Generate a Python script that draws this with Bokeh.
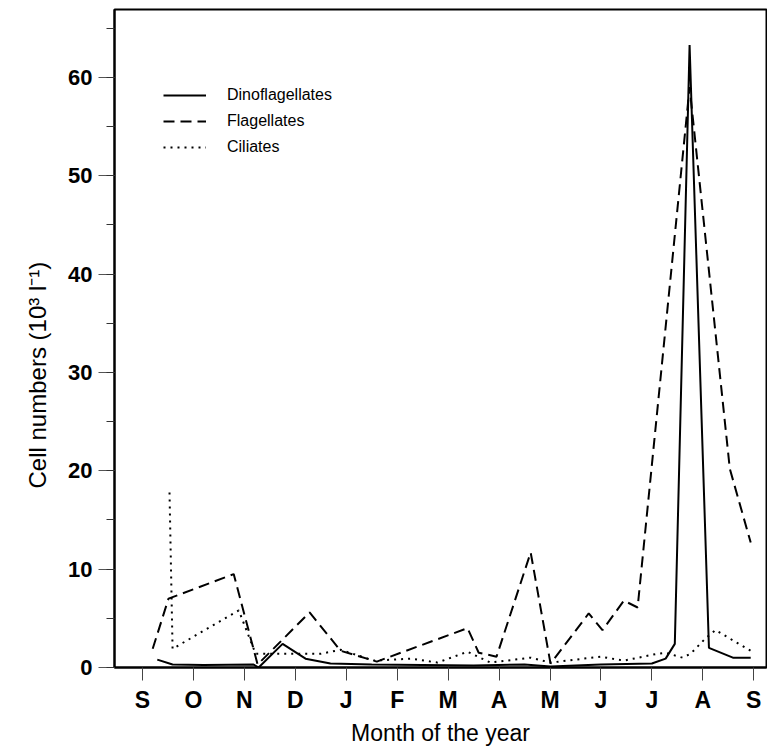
from bokeh.plotting import figure
from bokeh.models import (Legend, LegendItem, Title, Range1d,
                          SingleIntervalTicker, FixedTicker)
from bokeh.embed import file_html
from bokeh.resources import INLINE

# x = months since the start of September
month_ticks = [0, 1, 2, 3, 4, 5, 6, 7, 8, 9, 10, 11, 12]
month_labels = ["S", "O", "N", "D", "J", "F", "M", "A", "M", "J", "J", "A", "S"]

dino_x = [0.29, 0.59, 1.20, 2.18, 2.28, 2.75, 3.20, 3.69, 4.50, 5.50, 6.50,
          7.50, 8.01, 9.00, 10.00, 10.27, 10.45, 10.74, 11.12, 11.59, 11.94]
dino_y = [0.8, 0.3, 0.25, 0.3, 0.0, 2.4, 0.9, 0.4, 0.3, 0.25, 0.2,
          0.3, 0.1, 0.3, 0.4, 0.9, 2.4, 63.3, 2.0, 1.0, 1.0]

flag_x = [0.20, 0.51, 1.79, 2.26, 3.28, 3.89, 4.60, 6.38, 6.60, 6.95, 7.62,
          8.01, 8.76, 9.03, 9.45, 9.72, 10.74, 11.53, 11.94]
flag_y = [1.9, 7.0, 9.5, 0.3, 5.6, 1.7, 0.6, 4.0, 1.5, 1.1, 11.7,
          0.4, 5.5, 3.8, 6.8, 6.1, 59.0, 20.2, 12.7]

cil_x = [0.53, 0.59, 1.89, 2.22, 2.91, 3.50, 3.89, 4.54, 5.26, 5.79, 6.38,
         6.83, 7.62, 8.01, 8.99, 9.45, 10.11, 10.27, 10.60, 10.76, 11.06,
         11.25, 11.94]
cil_y = [17.8, 1.9, 5.8, 1.4, 1.4, 1.4, 1.8, 0.7, 0.9, 0.5, 1.6,
         0.5, 1.0, 0.5, 1.1, 0.7, 1.4, 1.5, 1.0, 1.4, 3.0,
         3.8, 1.7]

p = figure(frame_width=652, frame_height=658, output_backend="svg",
           toolbar_location=None,
           x_range=Range1d(-0.55, 12.25), y_range=Range1d(0, 66.9),
           min_border_left=114, min_border_right=1, min_border_top=9,
           min_border_bottom=80)

p.background_fill_color = "white"
p.border_fill_color = "white"
p.outline_line_color = "black"
p.outline_line_width = 2
p.grid.visible = False

FONT = "Liberation Sans"

# x axis
p.xaxis.ticker = FixedTicker(ticks=month_ticks)
p.xaxis.major_label_overrides = {t: l for t, l in zip(month_ticks, month_labels)}
p.xaxis.major_tick_out = 13
p.xaxis.major_tick_in = 0
p.xaxis.minor_tick_out = 0
p.xaxis.minor_tick_in = 0
p.xaxis.major_tick_line_color = "#444444"
p.xaxis.axis_line_color = "black"
p.xaxis.axis_line_width = 2
p.xaxis.major_label_text_font = FONT
p.xaxis.major_label_text_font_size = "23px"
p.xaxis.major_label_text_font_style = "bold"
p.xaxis.major_label_text_color = "black"
p.xaxis.major_label_standoff = 6
p.xaxis.axis_label = "Month of the year"
p.xaxis.axis_label_text_font = FONT
p.xaxis.axis_label_text_font_size = "23px"
p.xaxis.axis_label_text_font_style = "normal"
p.xaxis.axis_label_text_color = "black"
p.xaxis.axis_label_standoff = 4

# y axis
p.yaxis.ticker = SingleIntervalTicker(interval=10, num_minor_ticks=2)
p.yaxis.major_tick_out = 16
p.yaxis.major_tick_in = 0
p.yaxis.minor_tick_out = 8
p.yaxis.minor_tick_in = 0
p.yaxis.major_tick_line_color = "#555555"
p.yaxis.minor_tick_line_color = "#333333"
p.yaxis.axis_line_color = "black"
p.yaxis.axis_line_width = 2
p.yaxis.major_label_text_font = FONT
p.yaxis.major_label_text_font_size = "22px"
p.yaxis.major_label_text_font_style = "bold"
p.yaxis.major_label_text_color = "black"
p.yaxis.major_label_standoff = 6

r_dino = p.line(dino_x, dino_y, line_color="black", line_width=2)
r_flag = p.line(flag_x, flag_y, line_color="black", line_width=2,
                line_dash="11 6")
r_cil = p.line(cil_x, cil_y, line_color="black", line_width=2,
               line_dash="2 5")

legend = Legend(items=[LegendItem(label="Dinoflagellates", renderers=[r_dino]),
                       LegendItem(label="Flagellates", renderers=[r_flag]),
                       LegendItem(label="Ciliates", renderers=[r_cil])],
                location=(49, 510), border_line_color=None,
                background_fill_alpha=0, padding=0, margin=0,
                glyph_width=43, glyph_height=20, label_height=20,
                label_standoff=21, spacing=6,
                label_text_font=FONT, label_text_font_size="16px",
                label_text_color="black")
p.add_layout(legend, "center")

ytitle = Title(text="Cell numbers (10\u00b3 l\u207b\u00b9)", align="left",
               offset=179, standoff=30, text_font=FONT,
               text_font_size="24px", text_font_style="normal",
               text_color="black")
p.add_layout(ytitle, "left")

open("out.html", "w").write(file_html(p, INLINE))
